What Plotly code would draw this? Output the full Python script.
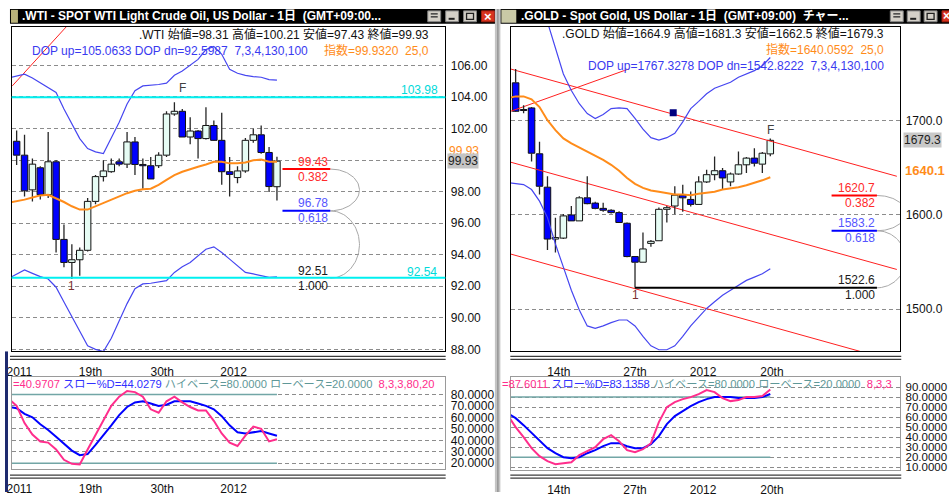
import numpy as np
import plotly.graph_objects as go

W, H = 949, 497
def px(x): return x / W
def py(y): return 1 - y / H

FONT = "Liberation Sans, Arial, Noto Sans CJK JP, sans-serif"

# ---------------- WTI data ----------------
wti_open  = [101.19,100.31,98.11,99.51,97.80,99.89,94.97,93.51,93.68,94.28,97.38,98.95,99.26,99.89,99.74,101.15,99.72,
             99.64,99.64,100.31,102.92,103.09,101.46,101.84,101.36,102.19,101.25,99.26,98.89,99.31,101.25,101.60,100.48,98.31]
wti_high  = [101.88,101.60,100.10,99.60,101.77,100.00,95.92,94.66,94.45,97.60,99.05,99.99,100.10,100.10,101.77,101.46,100.10,
             100.20,100.50,103.10,103.66,103.24,102.72,101.90,103.34,102.50,102.99,100.20,99.60,101.40,101.98,102.19,100.83,100.21]
wti_low   = [99.68,97.69,97.38,97.50,97.59,94.14,93.20,92.46,92.67,94.20,97.20,98.64,99.20,99.60,99.50,99.05,98.18,
             98.80,99.50,100.20,102.80,101.46,101.00,100.10,101.30,101.20,98.43,97.69,98.53,99.20,101.10,100.40,97.97,97.43]
wti_close = [100.31,98.05,99.74,97.80,99.89,94.97,93.51,93.68,94.28,97.38,98.95,99.31,99.74,99.74,101.15,99.72,99.64,
             98.80,100.31,102.92,103.09,101.46,101.84,101.36,102.19,101.25,99.26,99.09,99.31,101.25,101.60,100.48,98.32,99.93]
# indicator series start one bar before the first visible candle (index -1)
wti_ema   = [97.30,97.38,97.49,97.63,97.76,97.80,97.59,97.34,97.07,96.86,96.86,97.07,97.28,97.49,97.70,97.90,98.05,98.15,
             98.18,98.43,98.74,99.05,99.26,99.43,99.58,99.72,99.89,99.89,99.79,99.79,99.85,99.99,100.04,99.89,99.90]
wti_dop_up = [105.20,105.33,105.44,105.20,104.90,104.60,104.28,103.24,102.30,101.36,100.73,100.52,100.41,101.36,102.40,103.55,104.39,104.70,
              104.74,104.79,104.87,105.37,105.64,106.00,106.38,107.00,107.20,106.70,105.75,105.50,105.37,105.29,105.25,105.10,105.06]
wti_dop_dn = [92.50,92.74,93.03,92.82,92.61,92.46,91.94,91.00,90.06,89.12,88.22,88.00,87.86,88.70,89.85,90.90,91.84,92.15,
              92.19,92.26,92.36,92.88,93.24,93.51,93.93,94.35,94.50,94.14,93.72,93.30,92.88,92.78,92.67,92.57,92.60]
wti_stoch_k = [76,70,55,45,39,38,32,23,19.5,19,32,45,58,70,78,83,82,78,67,64,74,78,73,69,66,66,57,46,38,35,44,52,50,39,40.97]
wti_stoch_d = [69,68,63,60,54,49,43,37,31,27,28,36,44,53,62,69,73,74,72,70,71,74,74,74,72,70,67,61,53,47,46,47,48,46,44.03]
wti_levels = [103.98, 92.54]            # cyan horizontal levels
wti_fib_vals = [99.43, 96.78, 92.51]
wti_fib_ratios = ["0.382", "0.618", "1.000"]
wti_trend_x = [-0.55, 6.3]
wti_trend_y = [104.70, 108.45]
wti_date_pos = [0.35, 9.37, 18.45, 27.5]
wti_date_txt = ["2011", "19th", "30th", "2012"]
wti_price_ticks = [88, 90, 92, 94, 96, 98, 100, 102, 104, 106]
wti_price_text = ["88.00", "90.00", "92.00", "94.00", "96.00", "98.00", "", "102.00", "104.00", "106.00"]

# ---------------- GOLD data ----------------
gold_open  = [1740.4,1712.0,1713.7,1665.0,1629.5,1574.4,1575.4,1600.0,1593.7,1618.2,1612.6,1607.0,1605.0,1602.5,1591.2,1555.8,1549.8,
              1569.8,1572.6,1606.0,1609.5,1621.0,1616.5,1611.2,1635.1,1642.8,1647.0,1635.1,1643.5,1653.3,1660.4,1654.0,1664.9]
gold_high  = [1755.0,1716.5,1714.7,1677.9,1641.0,1597.0,1601.0,1609.5,1620.0,1641.0,1614.0,1613.0,1606.0,1604.0,1592.0,1556.0,1581.4,
              1573.5,1608.0,1609.5,1630.5,1632.0,1625.0,1641.0,1648.0,1662.0,1650.0,1645.0,1667.4,1661.5,1670.9,1667.0,1681.3]
gold_low   = [1709.5,1708.2,1656.8,1621.8,1562.8,1560.0,1574.5,1593.7,1593.7,1611.5,1606.0,1603.5,1601.5,1592.0,1555.0,1522.6,1549.8,
              1566.3,1572.6,1592.0,1600.7,1603.5,1609.0,1611.2,1634.0,1636.8,1627.0,1630.5,1642.8,1644.6,1651.6,1644.6,1662.5]
gold_close = [1710.2,1711.0,1665.6,1630.5,1574.4,1576.0,1599.0,1593.7,1618.2,1612.0,1607.0,1605.0,1602.5,1592.0,1555.8,1549.8,1563.9,
              1572.0,1606.0,1607.7,1621.0,1618.2,1611.2,1635.1,1642.8,1647.0,1639.3,1643.5,1653.3,1660.4,1655.0,1665.6,1679.3]
gold_ema   = [1724.0,1726.0,1726.0,1722.8,1714.7,1700.7,1690.2,1681.4,1676.1,1671.6,1667.4,1663.2,1658.6,1653.3,1647.0,1639.3,1633.0,1628.8,
              1626.0,1624.6,1623.5,1621.8,1621.8,1621.0,1622.5,1623.5,1624.6,1627.0,1628.1,1629.5,1631.6,1634.0,1636.8,1640.06]
gold_dop_up = [None,None,None,None,None,1805.0,1776.0,1749.8,1732.3,1718.2,1707.7,1702.5,1706.7,1713.0,1713.7,1713.0,1702.5,1691.2,
               1682.1,1679.6,1682.1,1686.7,1698.9,1713.0,1720.7,1728.8,1734.7,1738.2,1741.0,1746.3,1749.8,1753.3,1758.6,1767.33]
gold_dop_dn = [1634.5,1633.3,1632.3,1627.0,1614.7,1597.2,1569.1,1544.6,1520.0,1499.0,1482.1,1479.6,1482.1,1485.6,1488.4,1488.4,1482.1,1470.9,
               1461.0,1456.8,1456.8,1461.0,1470.9,1482.1,1491.9,1500.7,1507.7,1514.7,1520.0,1525.3,1530.5,1534.0,1537.5,1542.82]
gold_stoch_k = [62,50,40,29,21,16,13,14,15,22,26,30,38,42,36,27,25,28,34,55,70,75,78,80,83,87,85,79,76,77,80,80,81,87.60]
gold_stoch_d = [64,59,52,44,36,29,24,20,19,20,24,27,31,34,34,31,29,29,33,41,53,61,66,71,75,78,80,80,80,79,79,79,80,83.14]
gold_channel_x = [-0.63, 47.9]
gold_channel_upper = [1755.1, 1641.1]
gold_channel_mid = [1656.1, 1542.1]
gold_channel_low_x = [-0.63, 43.3]
gold_channel_low = [1558.5, 1455.0]
gold_rise_x = [-0.63, 14.2]
gold_rise_y = [1710.1, 1755.1]
gold_marker_x = [19.8]
gold_marker_y = [1708.7]
gold_fib_vals = [1620.7, 1583.2, 1522.6]
gold_fib_ratios = ["0.382", "0.618", "1.000"]
gold_date_pos = [5.43, 15.0, 23.55, 32.2]
gold_date_txt = ["14th", "27th", "2012", "20th"]
gold_price_ticks = [1500, 1600, 1700]

BLUE_BODY = "#0000FF"
LIGHT_BODY = "#E6FCF4"
WICK = "#262626"
EMA_C = "#FF8C1A"
BAND_C = "#4646F0"
PINK = "#FF2D8C"
STBLUE = "#0000FF"
TEAL = "#72A6A6"

fig = go.Figure()

def add_candles(o, h, l, c, xa, ya, minh):
    n = len(o)
    idx = list(range(n))
    wx, wy = [], []
    for i in idx:
        top, bot = max(o[i], c[i]), min(o[i], c[i])
        wx += [i, i, None, i, i, None]
        wy += [h[i], top, None, bot, l[i], None]
    fig.add_trace(go.Scatter(x=wx, y=wy, mode="lines", line=dict(color=WICK, width=1.3),
                             xaxis=xa, yaxis=ya, hoverinfo="skip", showlegend=False))
    for up in (True, False):
        sel = [i for i in idx if (c[i] >= o[i]) == up]
        fig.add_trace(go.Bar(
            x=sel, base=[min(o[i], c[i]) for i in sel],
            y=[max(abs(c[i] - o[i]), minh) for i in sel],
            width=0.82, marker=dict(color=LIGHT_BODY if up else BLUE_BODY, line=dict(color="#101010", width=1)),
            xaxis=xa, yaxis=ya, hoverinfo="skip", showlegend=False))

def line(x, y, xa, ya, color, width, dash=None):
    fig.add_trace(go.Scatter(x=x, y=y, mode="lines", line=dict(color=color, width=width, dash=dash),
                             xaxis=xa, yaxis=ya, hoverinfo="skip", showlegend=False, connectgaps=False))

def arc(x0, y_top, y_bot, rx):
    t = np.linspace(-np.pi / 2, np.pi / 2, 60)
    return list(x0 + rx * np.cos(t)), list((y_top + y_bot) / 2 - (y_top - y_bot) / 2 * np.sin(t))

def ix(series):
    return list(range(-1, len(series) - 1))

# ---------- WTI price panel ----------
n_w = len(wti_open)
line(wti_trend_x, wti_trend_y, "x", "y", "#FF2020", 1)
add_candles(wti_open, wti_high, wti_low, wti_close, "x", "y", 0.04)
line(ix(wti_ema), wti_ema, "x", "y", EMA_C, 2)
line(ix(wti_dop_up), wti_dop_up, "x", "y", BAND_C, 1.2)
line(ix(wti_dop_dn), wti_dop_dn, "x", "y", BAND_C, 1.2)
wfx0, wfx1 = 33.7, 39.76
for a, b in [(0, 1), (1, 2)]:
    ax_, ay_ = arc(wfx1, wti_fib_vals[a], wti_fib_vals[b], 3.7)
    line(ax_, ay_, "x", "y", "#A8A8A8", 1)

# ---------- WTI stoch ----------
line([-0.63, n_w - 1], [80, 80], "x2", "y2", TEAL, 1.5)
line([-0.63, n_w - 1], [20, 20], "x2", "y2", TEAL, 1.5)
line(ix(wti_stoch_d), wti_stoch_d, "x2", "y2", STBLUE, 2)
line(ix(wti_stoch_k), wti_stoch_k, "x2", "y2", PINK, 2)

# ---------- GOLD price panel ----------
n_g = len(gold_open)
line(gold_channel_x, gold_channel_upper, "x3", "y3", "#FF2020", 1)
line(gold_channel_x, gold_channel_mid, "x3", "y3", "#FF2020", 1)
line(gold_channel_low_x, gold_channel_low, "x3", "y3", "#FF2020", 1)
line(gold_rise_x, gold_rise_y, "x3", "y3", "#FF2020", 1)
add_candles(gold_open, gold_high, gold_low, gold_close, "x3", "y3", 0.8)
line(ix(gold_ema), gold_ema, "x3", "y3", EMA_C, 2)
line(ix(gold_dop_up), gold_dop_up, "x3", "y3", BAND_C, 1.2)
line(ix(gold_dop_dn), gold_dop_dn, "x3", "y3", BAND_C, 1.2)
gfx0, gfx1 = 39.7, 45.4
for a, b in [(0, 1), (1, 2)]:
    ax_, ay_ = arc(gfx1, gold_fib_vals[a], gold_fib_vals[b], 3.6)
    line(ax_, ay_, "x3", "y3", "#A8A8A8", 1)
fig.add_trace(go.Scatter(x=gold_marker_x, y=gold_marker_y, mode="markers",
                         marker=dict(symbol="square", size=7, color="#000080"),
                         xaxis="x3", yaxis="y3", hoverinfo="skip", showlegend=False))

# ---------- GOLD stoch ----------
line([-0.63, n_g - 1], [80, 80], "x4", "y4", TEAL, 1.5)
line([-0.63, n_g - 1], [20, 20], "x4", "y4", TEAL, 1.5)
line(ix(gold_stoch_d), gold_stoch_d, "x4", "y4", STBLUE, 2)
line(ix(gold_stoch_k), gold_stoch_k, "x4", "y4", PINK, 2)

# ---------- axes ----------
GRID = dict(showgrid=True, gridcolor="#8C8C8C", gridwidth=1, griddash="4px,3px", zeroline=False)
def xax(dom, rng, pos, txt, anchor, linecolor):
    return dict(domain=dom, range=rng, anchor=anchor, tickmode="array", tickvals=pos, ticktext=txt,
                showgrid=False, zeroline=False, showline=True, mirror=True, linecolor=linecolor, linewidth=1,
                ticks="", tickfont=dict(family=FONT, size=12, color="#111111"), ticklabelstandoff=9, fixedrange=True)
def yax(dom, rng, vals, texts, anchor, linecolor, size=12):
    d = dict(domain=dom, range=rng, anchor=anchor, side="right", tickmode="array", tickvals=vals,
             ticktext=texts, showline=True, mirror=True, linecolor=linecolor, linewidth=1,
             ticks="", tickfont=dict(family=FONT, size=size, color="#111111"), ticklabelstandoff=2, fixedrange=True)
    d.update(GRID)
    return d

def fmt(vals, f):
    return [f.format(v) for v in vals]

wdx = [px(6.7), px(442.7)]
gdx = [px(508.3), px(900)]
st_w = [20, 30, 40, 50, 60, 70, 80]
st_g = [10, 20, 30, 40, 50, 60, 70, 80, 90]
fig.update_layout(
    xaxis=xax(wdx, [-0.63, 54.35], wti_date_pos, wti_date_txt, "y", "#000000"),
    yaxis=yax([py(355), py(27)], [87.87, 108.45], wti_price_ticks, wti_price_text, "x", "#000000"),
    xaxis2=xax(wdx, [-0.63, 54.35], wti_date_pos, wti_date_txt, "y2", "#9A9A9A"),
    yaxis2=yax([py(473.3), py(381)], [15.4, 95.0], st_w, fmt(st_w, "{:.4f}"), "x2", "#9A9A9A"),
    xaxis3=xax(gdx, [-0.63, 48.33], gold_date_pos, gold_date_txt, "y3", "#000000"),
    yaxis3=yax([py(355), py(27)], [1455, 1800], gold_price_ticks, fmt(gold_price_ticks, "{:.1f}"), "x3", "#000000"),
    xaxis4=xax(gdx, [-0.63, 48.33], gold_date_pos, gold_date_txt, "y4", "#9A9A9A"),
    yaxis4=yax([py(474.3), py(381)], [7.7, 99.9], st_g, fmt(st_g, "{:.4f}"), "x4", "#9A9A9A", 11.5),
)

# ---------- shapes ----------
shapes = []
def prect(x0, y0, x1, y1, fill, lc=None, lw=0, layer="above"):
    shapes.append(dict(type="rect", xref="paper", yref="paper", x0=px(x0), x1=px(x1), y0=py(y1), y1=py(y0),
                       fillcolor=fill, line=dict(color=lc or fill, width=lw), layer=layer))
def pline(x0, y0, x1, y1, color, w):
    shapes.append(dict(type="line", xref="paper", yref="paper", x0=px(x0), x1=px(x1), y0=py(y0), y1=py(y1),
                       line=dict(color=color, width=w)))

# title bars
prect(5, 9, 493, 24, "#000000")
prect(498, 9, 949, 24, "#000000")
prect(6, 10, 13, 23, "#B9B27A")
prect(499, 10, 514, 23, "#C9C9A6")
for bx in [(425, 438), (443, 456), (461, 474), (890, 903), (907, 920), (924, 937)]:
    prect(bx[0], 11, bx[1], 22, "#D4D0C8", "#808080", 1)
prect(479, 11, 492, 22, "#D8331F", "#A02010", 1)
prect(942, 11, 955, 22, "#D8331F", "#A02010", 1)
for b0 in [425, 890]:
    pline(b0 + 3, 14, b0 + 10, 14, "#404040", 1.5)
    pline(b0 + 3, 17, b0 + 10, 17, "#404040", 1.5)
for b0 in [443, 907]:
    pline(b0 + 3, 19, b0 + 9, 19, "#202020", 2)
for b0 in [461, 924]:
    shapes.append(dict(type="rect", xref="paper", yref="paper", x0=px(b0 + 3), x1=px(b0 + 10), y0=py(19.5), y1=py(13.5),
                       fillcolor="rgba(0,0,0,0)", line=dict(color="#202020", width=1.3)))
# window separator and left frame
prect(492.5, 9, 498, 497, "#C4C4C4")
pline(495.5, 9, 495.5, 497, "#8A8A8A", 1.2)
prect(0, 355, 3, 497, "#1E2A6E")
# double separators
for (a, b) in [(5, 443), (508, 901)]:
    for yy in (360, 363, 480, 483):
        pline(a, yy, b, yy, "#3C3C3C", 1.2)
# cyan levels
for lv in wti_levels:
    shapes.append(dict(type="line", xref="x domain", yref="y", x0=0, x1=1, y0=lv, y1=lv,
                       line=dict(color="#00F0F0", width=2)))
# fib lines
fib_cols = ["#FF0000", "#0000FF"]
for k in range(2):
    shapes.append(dict(type="line", xref="x", yref="y", x0=wfx0, x1=wfx1, y0=wti_fib_vals[k], y1=wti_fib_vals[k],
                       line=dict(color=fib_cols[k], width=2)))
    shapes.append(dict(type="line", xref="x3", yref="y3", x0=gfx0, x1=gfx1, y0=gold_fib_vals[k], y1=gold_fib_vals[k],
                       line=dict(color=fib_cols[k], width=2)))
shapes.append(dict(type="line", xref="x3", yref="y3", x0=15, x1=gfx1, y0=gold_fib_vals[2], y1=gold_fib_vals[2],
                   line=dict(color="#000000", width=2)))

# ---------- annotations ----------
ann = []
def ptext(x, y, text, color, size=12, xanchor="left", bold=False, bg=None):
    a = dict(xref="paper", yref="paper", x=px(x), y=py(y), text=("<b>%s</b>" % text) if bold else text,
             showarrow=False, xanchor=xanchor, yanchor="middle",
             font=dict(family=FONT, size=size, color=color))
    if bg:
        a.update(bgcolor=bg, borderpad=0)
    ann.append(a)
def dtext(xr, yr, x, y, text, color, yshift=0, xanchor="right", size=12):
    ann.append(dict(xref=xr, yref=yr, x=x, y=y, text=text, showarrow=False, xanchor=xanchor, yanchor="middle",
                    yshift=yshift, font=dict(family=FONT, size=size, color=color)))
def span(t, c):
    return '<span style="color:%s">%s</span>' % (c, t)

# title texts
ptext(15, 16.5, ".WTI - SPOT WTI Light Crude Oil, US Dollar - 1日  (GMT+09:00...", "#FFFFFF", 12, bold=True)
ptext(517, 16.5, ".GOLD - Spot Gold, US Dollar - 1日  (GMT+09:00)  チャー...", "#FFFFFF", 12, bold=True)
ptext(485.5, 16.5, "×", "#FFFFFF", 13, xanchor="center", bold=True)
ptext(946, 16.5, "×", "#FFFFFF", 12, xanchor="center", bold=True)

# WTI headers
ptext(428, 35, ".WTI 始値=98.31 高値=100.21 安値=97.43 終値=99.93", "#111111", 12, xanchor="right")
ptext(25, 51.5, "DOP up=105.0633 DOP dn=92.5987  7,3,4,130,100", "#3A3AF0", 12)
ptext(428, 51.5, "指数=99.9320  25,0", "#FF8C1A", 12, xanchor="right")
# gold headers
ptext(885.7, 33.5, ".GOLD 始値=1664.9 高値=1681.3 安値=1662.5 終値=1679.3", "#111111", 12, xanchor="right")
ptext(885.7, 50.5, "指数=1640.0592  25,0", "#FF8C1A", 12, xanchor="right")
ptext(885.7, 66.5, "DOP up=1767.3278 DOP dn=1542.8222  7,3,4,130,100", "#3A3AF0", 12, xanchor="right")

# axis value boxes
ptext(444, 153, "99.93", "#FF8C1A", 12)
ptext(444, 163, "99.93", "#222222", 12, bg="#C4C4C4")
ptext(903, 141, "1679.3", "#222222", 12, bg="#C8C8C8")
ptext(903, 172, "1640.1", "#FF8C1A", 13, bold=True)

# cyan level labels
dtext("x", "y", 51.07, wti_levels[0], "%.2f" % wti_levels[0], "#00DADA", 7, "center")
dtext("x", "y", 51.36, wti_levels[1], "%.2f" % wti_levels[1], "#00DADA", 6, "center")

# fib labels
tcols = ["#FF2A2A", "#5555FF", "#1A1A1A"]
for k in range(3):
    dtext("x", "y", wfx1, wti_fib_vals[k], "%.2f" % wti_fib_vals[k], tcols[k], 7.5)
    dtext("x", "y", wfx1, wti_fib_vals[k], wti_fib_ratios[k], tcols[k], -7.5)
    dtext("x3", "y3", gfx1, gold_fib_vals[k], "%.1f" % gold_fib_vals[k], tcols[k], 7.5)
    dtext("x3", "y3", gfx1, gold_fib_vals[k], gold_fib_ratios[k], tcols[k], -7.5)

# F / 1 markers
dtext("x", "y", 21, wti_levels[0], "F", "#404040", 9, "center")
dtext("x", "y", 7, wti_levels[1], "1", "#7A3030", -8, "center")
dtext("x3", "y3", 32, gold_high[32], "F", "#404040", 8, "center")
dtext("x3", "y3", 15, gold_fib_vals[2], "1", "#7A3030", -7, "center")

# stoch headers (one text each, coloured spans)
ST_TEAL = "#5F9898"
ptext(6, 388.3, span("=40.9707 ", PINK) + span("スロー%D=44.0279 ", "#3030FF")
      + span("ハイベース=80.0000 ローベース=20.0000  ", ST_TEAL) + span("8,3,3,80,20", PINK), PINK, 11.2)
ptext(498, 388.3, span("=87.6011 ", PINK) + span("スロー%D=83.1358 ", "#3030FF")
      + span("ハイベース=80.0000 ローベース=20.0000  ", ST_TEAL) + span("8,3,3", PINK), PINK, 11.2)

fig.update_layout(
    width=W, height=H, margin=dict(l=0, r=0, t=0, b=0),
    paper_bgcolor="#FFFFFF", plot_bgcolor="#FFFFFF",
    barmode="overlay", showlegend=False, hovermode=False,
    shapes=shapes, annotations=ann,
    font=dict(family=FONT, size=12),
)
fig.write_html("out.html", config={"displayModeBar": False},
               post_script="document.body.style.margin='0px';document.body.style.overflow='hidden';")
